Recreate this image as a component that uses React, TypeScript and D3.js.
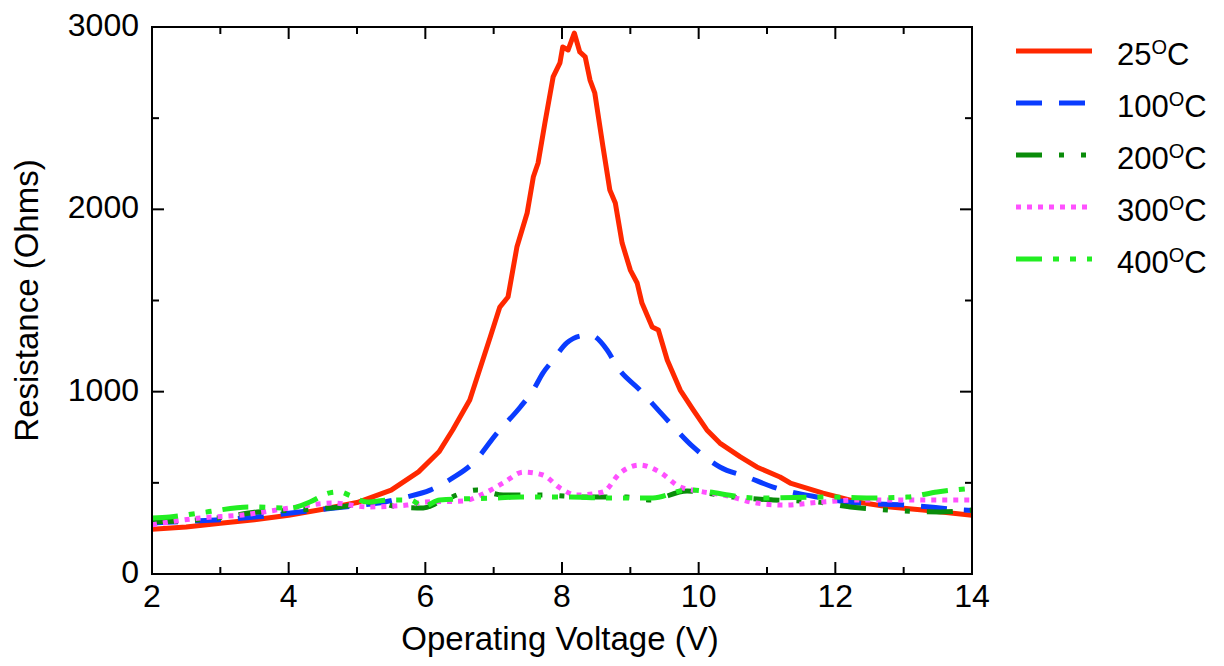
import React, { useRef, useEffect } from 'react';
import { select, scaleLinear, line, curveMonotoneX, curveLinear, range } from 'd3';

// [voltage, resistance]
const r25 = [[2, 245], [2.5, 258], [3, 278], [3.5, 298], [4, 322], [4.5, 355], [5, 392], [5.5, 460], [5.9, 560], [6.2, 670], [6.4, 790], [6.65, 954], [6.95, 1300], [7.09, 1464], [7.21, 1519], [7.34, 1793], [7.49, 1980], [7.58, 2177], [7.65, 2254], [7.75, 2474], [7.87, 2726], [7.97, 2803], [8.01, 2890], [8.09, 2874], [8.18, 2967], [8.26, 2863], [8.34, 2836], [8.41, 2709], [8.48, 2638], [8.6, 2342], [8.7, 2106], [8.78, 2035], [8.88, 1815], [9.0, 1667], [9.1, 1596], [9.17, 1486], [9.32, 1355], [9.41, 1338], [9.54, 1174], [9.73, 1009], [9.92, 900], [10.12, 790], [10.31, 718], [10.61, 642], [10.85, 587], [11.19, 532], [11.34, 499], [11.82, 444], [12.32, 395], [12.8, 367], [13.28, 351], [14, 322]];
const r100 = [[2, 280], [2.5, 288], [3, 298], [3.5, 312], [4, 333], [4.5, 355], [5, 375], [5.4, 395], [5.7, 420], [6.07, 460], [6.4, 527], [6.7, 609], [7.05, 773], [7.39, 916], [7.58, 1009], [7.72, 1102], [7.87, 1174], [8.07, 1267], [8.26, 1305], [8.41, 1311], [8.66, 1229], [8.81, 1135], [9.14, 1009], [9.54, 845], [9.92, 697], [10.31, 587], [10.71, 532], [11.09, 477], [11.73, 422], [12.32, 389], [13.05, 378], [13.87, 351], [14, 348]];
const r200 = [[2, 285], [2.95, 307], [3.54, 340], [4.17, 351], [4.75, 368], [5.29, 395], [5.59, 368], [5.97, 362], [6.21, 395], [6.76, 461], [7.14, 433], [7.68, 433], [8.37, 422], [8.95, 422], [9.29, 406], [9.83, 455], [10.5, 422], [11.09, 406], [11.73, 395], [12.22, 368], [12.76, 351], [13.53, 340], [14, 351]];
const r300 = [[2, 270], [2.7, 307], [3.33, 324], [4.02, 362], [4.65, 389], [5.15, 368], [5.73, 378], [6.0, 395], [6.55, 400], [6.85, 440], [7.14, 499], [7.43, 559], [7.72, 543], [7.97, 472], [8.22, 433], [8.6, 450], [8.85, 554], [9.14, 598], [9.43, 559], [9.73, 477], [10.0, 455], [10.36, 433], [10.85, 389], [11.23, 378], [11.82, 395], [12.32, 406], [13.05, 406], [14, 406]];
const r400 = [[2, 307], [2.26, 313], [2.8, 340], [3.43, 368], [4.02, 362], [4.31, 395], [4.6, 445], [4.75, 450], [4.9, 430], [5.15, 395], [5.48, 406], [5.78, 406], [5.97, 370], [6.21, 406], [7.05, 417], [7.39, 422], [8.12, 422], [8.6, 417], [9.33, 417], [9.83, 461], [10.85, 417], [11.92, 422], [12.51, 417], [13.05, 422], [13.49, 450], [14, 470]];

const temps = ['25', '100', '200', '300', '400'];
const seriesData = [r25, r100, r200, r300, r400];
const colors = ['#ff2800', '#0a3cff', '#0a8c0a', '#ff50ff', '#22ee22'];
const dashes = ['none', '26,17', '26,17,5,17,5,17', '5,6', '26,11,6,11,6,11'];

const xTicks = [2, 4, 6, 8, 10, 12, 14];
const yTicks = [0, 1000, 2000, 3000];
const xTitle = 'Operating Voltage (V)';
const yTitle = 'Resistance (Ohms)';

const FONT = '"Liberation Sans", Arial, Helvetica, sans-serif';

export default function App() {
    const svgRef = useRef(null);

    useEffect(() => {
        const svg = select(svgRef.current);
        svg.selectAll('*').remove();

        const left = 152, right = 972, top = 27, bottom = 574;
        const x = scaleLinear().domain([2, 14]).range([left, right]);
        const y = scaleLinear().domain([0, 3000]).range([bottom, top]);

        svg.append('defs').append('clipPath').attr('id', 'plotclip')
            .append('rect')
            .attr('x', left).attr('y', top)
            .attr('width', right - left).attr('height', bottom - top);

        // data lines
        const g = svg.append('g').attr('clip-path', 'url(#plotclip)');
        seriesData.forEach((d, i) => {
            const gen = line()
                .x(p => x(p[0]))
                .y(p => y(p[1]))
                .curve(i === 0 ? curveLinear : curveMonotoneX);
            g.append('path')
                .attr('d', gen(d))
                .attr('fill', 'none')
                .attr('stroke', colors[i])
                .attr('stroke-width', 5)
                .attr('stroke-linejoin', 'round')
                .attr('stroke-dasharray', dashes[i]);
        });

        // frame
        svg.append('rect')
            .attr('x', left).attr('y', top)
            .attr('width', right - left).attr('height', bottom - top)
            .attr('fill', 'none').attr('stroke', '#000').attr('stroke-width', 2);

        // ticks, pointing inwards on all four sides
        const ticks = svg.append('g').attr('stroke', '#000').attr('stroke-width', 2);
        range(2, 14.01, 1).forEach(v => {
            const len = v % 2 === 0 ? 12 : 7;
            ticks.append('line').attr('x1', x(v)).attr('x2', x(v)).attr('y1', bottom).attr('y2', bottom - len);
            ticks.append('line').attr('x1', x(v)).attr('x2', x(v)).attr('y1', top).attr('y2', top + len);
        });
        range(0, 3001, 500).forEach(v => {
            const len = v % 1000 === 0 ? 12 : 7;
            ticks.append('line').attr('y1', y(v)).attr('y2', y(v)).attr('x1', left).attr('x2', left + len);
            ticks.append('line').attr('y1', y(v)).attr('y2', y(v)).attr('x1', right).attr('x2', right - len);
        });

        const txt = svg.append('g').attr('font-family', FONT).attr('font-size', 32).attr('fill', '#000');
        xTicks.forEach(v => {
            txt.append('text').attr('x', x(v)).attr('y', 607).attr('text-anchor', 'middle').text(v);
        });
        yTicks.forEach(v => {
            txt.append('text').attr('x', left - 13).attr('y', y(v) + 9).attr('text-anchor', 'end').text(v);
        });
        txt.append('text').attr('x', 560).attr('y', 650).attr('font-size', 33).attr('text-anchor', 'middle').text(xTitle);
        txt.append('text')
            .attr('transform', `translate(38,${(top + bottom) / 2}) rotate(-90)`)
            .attr('font-size', 33)
            .attr('text-anchor', 'middle').text(yTitle);

        // legend
        const leg = svg.append('g');
        temps.forEach((t, i) => {
            const ly = 51 + i * 52;
            leg.append('line')
                .attr('x1', 1016).attr('x2', 1092).attr('y1', ly).attr('y2', ly)
                .attr('stroke', colors[i]).attr('stroke-width', 5)
                .attr('stroke-dasharray', dashes[i]);
            const lt = leg.append('text')
                .attr('x', 1117).attr('y', ly + 14)
                .attr('font-family', FONT).attr('font-size', 31);
            lt.append('tspan').text(t);
            lt.append('tspan').attr('dy', -11).attr('font-size', 20).text('O');
            lt.append('tspan').attr('dy', 11).text('C');
        });
    }, []);

    return (
        <svg ref={svgRef} width={1224} height={666} style={{ display: 'block', position: 'absolute', left: 0, top: 0 }} />
    );
}
